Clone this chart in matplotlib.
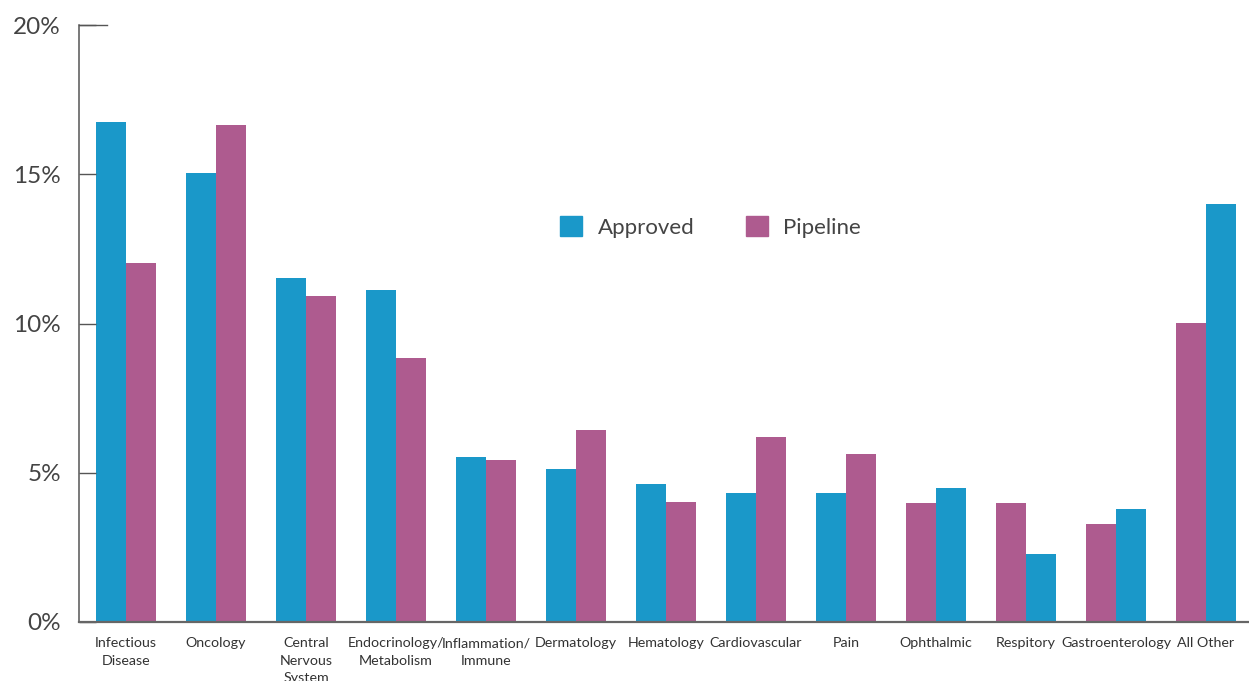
import matplotlib
matplotlib.use("Agg")
import matplotlib.pyplot as plt
import numpy as np
from matplotlib.patches import Patch

categories = ["Infectious\nDisease", "Oncology", "Central\nNervous\nSystem",
              "Endocrinology/\nMetabolism", "Inflammation/\nImmune", "Dermatology",
              "Hematology", "Cardiovascular", "Pain", "Ophthalmic", "Respitory",
              "Gastroenterology", "All Other"]
approved = [16.75, 15.04, 11.52, 11.12, 5.53, 5.13, 4.62, 4.32, 4.32, 4.49, 2.28, 3.79, 14.0]
pipeline = [12.03, 16.65, 10.92, 8.84, 5.43, 6.43, 4.02, 6.20, 5.63, 3.99, 3.99, 3.28, 10.02]
# which series sits on the left of each pair
left_series = ["Approved"] * 9 + ["Pipeline"] * 4
yticks = [0, 5, 10, 15, 20]
ytick_labels = ["0%", "5%", "10%", "15%", "20%"]

BLUE = "#1a98c9"
PINK = "#ae5b8f"

fig = plt.figure(figsize=(12.49, 6.81), dpi=100)
ax = fig.add_axes([79/1249, 1-622/681, 1-79/1249, (622-25)/681])

x = np.arange(len(categories))
w = 1/3
for i in range(len(categories)):
    if left_series[i] == "Approved":
        ax.bar(x[i] - w/2, approved[i], w, color=BLUE)
        ax.bar(x[i] + w/2, pipeline[i], w, color=PINK)
    else:
        ax.bar(x[i] - w/2, pipeline[i], w, color=PINK)
        ax.bar(x[i] + w/2, approved[i], w, color=BLUE)

ax.set_xlim(-0.522, 12.478)
ax.set_ylim(0, 20)
for s in ["top", "right"]:
    ax.spines[s].set_visible(False)
ax.spines["left"].set_color("#555555")
ax.spines["left"].set_linewidth(1.1)
ax.spines["bottom"].set_color("#666666")
ax.spines["bottom"].set_linewidth(1.6)

ax.set_yticks(yticks)
ax.set_yticklabels(ytick_labels, family=["Lato", "DejaVu Sans"], fontsize=17.5, color="#444444")
ax.tick_params(axis="y", direction="in", length=12.5, width=1.0, color="#555555", pad=13)
ax.axhline(20, xmin=0, xmax=28/1170, color="#555555", lw=1.0, clip_on=False)

ax.set_xticks(x)
ax.set_xticklabels(categories, family=["Lato", "DejaVu Sans"],
                   fontsize=10.3, color="#333333", linespacing=1.55)
ax.tick_params(axis="x", length=0, pad=11)

handles = [Patch(color=BLUE, label="Approved"), Patch(color=PINK, label="Pipeline")]
leg = fig.legend(handles=handles, loc="center left", bbox_to_anchor=(540/1249, 1-227/681),
                 ncol=2, frameon=False, prop={"family": ["Lato", "DejaVu Sans"], "size": 16},
                 handlelength=1.0, handleheight=1.0, handletextpad=0.7, columnspacing=2.3)
for t in leg.get_texts():
    t.set_color("#444444")

fig.savefig("out.png", dpi=100)
